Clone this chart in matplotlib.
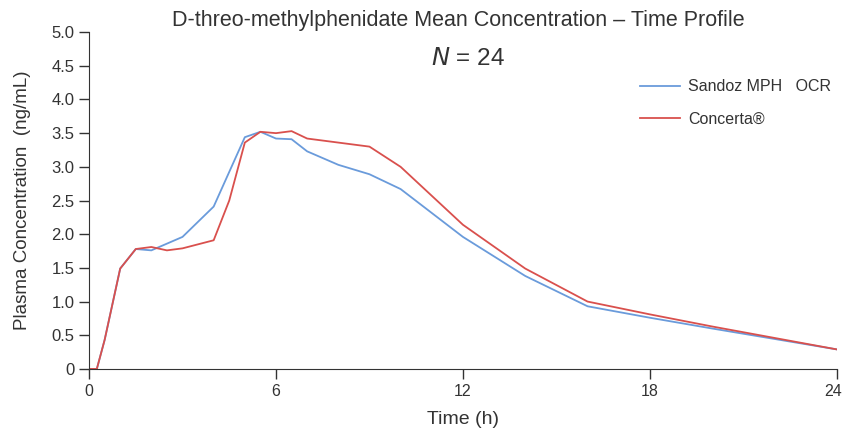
import matplotlib.pyplot as plt
import matplotlib.transforms as mtransforms
import numpy as np

plt.rcParams['font.family'] = ['Liberation Sans', 'DejaVu Sans']

# time points (h)
t_sandoz = [0, 0.25, 0.5, 1, 1.5, 2, 3, 4, 5, 5.5, 6, 6.5, 7, 8, 9, 10, 12, 14, 16, 18, 20, 24]
c_sandoz = [0, 0, 0.43, 1.49, 1.78, 1.76, 1.96, 2.41, 3.44, 3.52, 3.42, 3.41, 3.23, 3.03, 2.89, 2.67, 1.96, 1.38, 0.93, 0.76, 0.6, 0.29]

t_concerta = [0, 0.25, 0.5, 1, 1.5, 2, 2.5, 3, 4, 4.5, 5, 5.5, 6, 6.5, 7, 8, 9, 10, 12, 14, 16, 18, 20, 24]
c_concerta = [0, 0, 0.43, 1.49, 1.78, 1.81, 1.76, 1.79, 1.91, 2.5, 3.36, 3.52, 3.5, 3.53, 3.42, 3.36, 3.3, 3.0, 2.14, 1.49, 1.0, 0.81, 0.63, 0.29]

labels = ['Sandoz MPH   OCR', 'Concerta\u00ae']
colors = ['#6a9bdb', '#d9504d']

x_ticks = [0, 6, 12, 18, 24]
y_ticks = np.arange(0, 5.01, 0.5)
y_ticklabels = ['0'] + ['%.1f' % v for v in y_ticks[1:]]

fig = plt.figure(figsize=(8.44, 4.28), dpi=100)
ax = fig.add_axes([0.1055, 0.138, 0.886, 0.787])

ax.plot(t_sandoz, c_sandoz, color=colors[0], lw=1.3, label=labels[0])
ax.plot(t_concerta, c_concerta, color=colors[1], lw=1.3, label=labels[1])

ax.set_xlim(0, 24)
ax.set_ylim(0, 5)
ax.set_xticks(x_ticks)
ax.set_yticks(y_ticks)
ax.set_yticklabels(y_ticklabels)
ax.tick_params(axis='both', colors='#333333', labelcolor='#333333', labelsize=12,
               length=7, width=1)
ax.tick_params(axis='x', labelsize=11.5)
for side in ['top', 'right']:
    ax.spines[side].set_visible(False)
for side in ['left', 'bottom']:
    ax.spines[side].set_color('#333333')

# keep the last x label inside the figure
last = ax.get_xticklabels()[-1]
last.set_transform(last.get_transform() + mtransforms.ScaledTranslation(-4 / 100, 0, fig.dpi_scale_trans))

ax.set_xlabel('Time (h)', fontsize=14, color='#333333')
ax.xaxis.set_label_coords(0.5, -0.125)
ax.set_ylabel('Plasma Concentration  (ng/mL)', fontsize=13.5, color='#333333')
ax.yaxis.set_label_coords(-0.078, 0.5)

fig.text(0.543, 0.953, 'D-threo-methylphenidate Mean Concentration \u2013 Time Profile',
         ha='center', va='center', fontsize=15.5, color='#333333')
fig.text(0.555, 0.862, '$N$ = 24', ha='center', va='center', fontsize=17.5, color='#333333')

ax.legend(loc='upper left', bbox_to_anchor=(0.737, 0.86), frameon=False, fontsize=11.5,
          handlelength=2.5, handletextpad=0.5, labelspacing=1.1, borderpad=0,
          borderaxespad=0, labelcolor='#333333')

fig.savefig('out.png', dpi=100)
